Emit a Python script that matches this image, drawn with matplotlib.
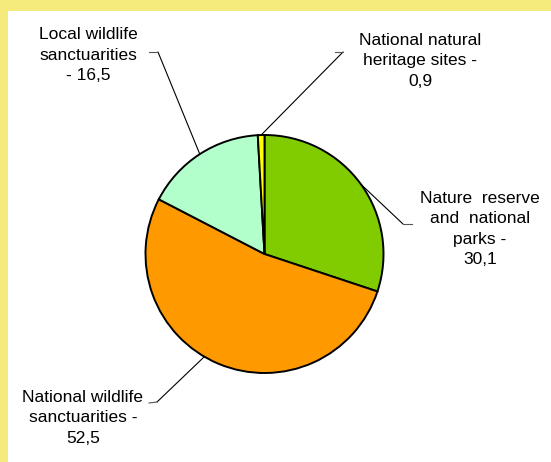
import matplotlib.pyplot as plt
import numpy as np
from matplotlib.lines import Line2D
from matplotlib.patches import Rectangle

plt.rcParams['font.family'] = ['Liberation Sans', 'DejaVu Sans']

# protected area shares, percent
categories = ['Nature  reserve\nand  national\nparks -',
              'National wildlife\nsanctuarities -',
              'Local wildlife\nsanctuarities\n-',
              'National natural\nheritage sites -']
values = [30.1, 52.5, 16.5, 0.9]
value_labels = ['30,1', '52,5', '16,5', '0,9']
colors = ['#80CC00', '#FF9900', '#B3FFCC', '#FFFF00']

W, H = 551, 462


def px(x, y):
    # pixel position (from top-left) -> figure fraction
    return x / W, 1 - y / H


fig = plt.figure(figsize=(W / 100, H / 100), dpi=100, facecolor='#F5EB7C')
fig.add_artist(Rectangle(px(8, H), (W - 8) / W, (H - 11) / H,
                         transform=fig.transFigure, facecolor='white',
                         edgecolor='none', zorder=0))

cx, cy, r = 264.5, 254, 119
ax = fig.add_axes([(cx - r) / W, (H - cy - r) / H, 2 * r / W, 2 * r / H])
ax.set_facecolor('none')
wedges, _ = ax.pie(values, colors=colors, startangle=90, counterclock=False,
                   wedgeprops=dict(edgecolor='black', linewidth=1.4))
ax.set_xlim(-1, 1)
ax.set_ylim(-1, 1)
ax.axis('off')

# label layout: text centre, elbow, end of horizontal stub, anchor shift (deg)
layout = [
    dict(text=(480, 229), elbow=(403, 224), end=(412, 224), shift=0),
    dict(text=(83, 418), elbow=(157, 402), end=(149, 403), shift=-7.5),
    dict(text=(88, 55), elbow=(158, 52), end=(149, 52), shift=0),
    dict(text=(420, 61), elbow=(343, 52), end=(335, 52), shift=0),
]

for w, cat, vl, lay in zip(wedges, categories, value_labels, layout):
    ang = np.deg2rad((w.theta1 + w.theta2) / 2 + lay['shift'])
    ax.annotate('', xy=(np.cos(ang), np.sin(ang)), xycoords='data',
                xytext=px(*lay['elbow']), textcoords='figure fraction',
                arrowprops=dict(arrowstyle='-', color='black', lw=0.8,
                                shrinkA=0, shrinkB=0))
    (x0, y0), (x1, y1) = px(*lay['elbow']), px(*lay['end'])
    fig.add_artist(Line2D([x0, x1], [y0, y1], transform=fig.transFigure,
                          color='#555555', lw=0.8))
    joiner = ' ' if cat.endswith('\n-') else '\n'
    fig.text(*px(*lay['text']), cat + joiner + vl, ha='center', va='center',
             fontsize=12.5, linespacing=1.45, color='black')

fig.savefig('out.png', dpi=100, facecolor=fig.get_facecolor())
